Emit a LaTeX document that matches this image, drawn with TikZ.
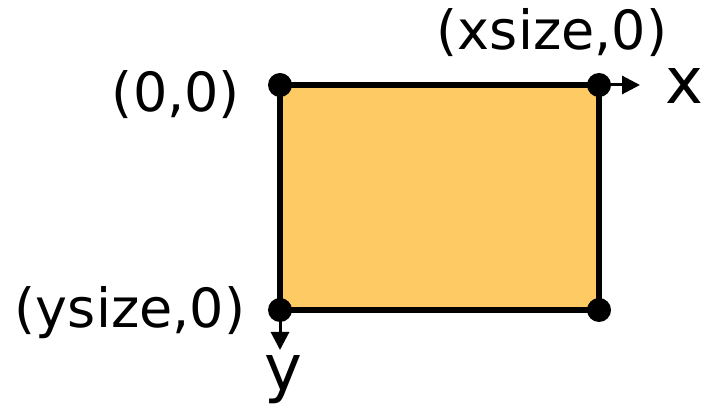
\documentclass[tikz,border=0pt]{standalone}
\usepackage{fontspec}
\setmainfont{DejaVu Sans}
\usetikzlibrary{arrows.meta}
\definecolor{boxfill}{HTML}{FDCA64}
\tikzset{
  lbl/.style={font=\fontsize{54}{64}\selectfont, inner sep=0pt},
  axlbl/.style={font=\fontsize{64}{76}\selectfont, inner sep=0pt},
  corner/.style={circle, fill=black, minimum size=24pt, inner sep=0pt},
  axis/.style={line width=3pt, -{Triangle[length=18pt,width=18pt]}}
}
\begin{document}
\begin{tikzpicture}[x=1pt,y=-1pt]
\useasboundingbox (0,0) rectangle (709,411);
\coordinate (tl) at (280,85);
\coordinate (tr) at (599,85);
\coordinate (bl) at (280,310);
\coordinate (br) at (599,310);
\draw[fill=boxfill, line width=5.5pt] (tl) rectangle (br);
\coordinate (xend) at (640,85);
\coordinate (yend) at (280,350);
\draw[axis] (tr) -- (xend);
\draw[axis] (bl) -- (yend);
\node[corner] (ctl) at (tl) {};
\node[corner] (ctr) at (tr) {};
\node[corner] (cbl) at (bl) {};
\node[corner] (cbr) at (br) {};
\node[lbl] (lxs) at (552,33) {(xsize,0)};
\node[axlbl] (lx) at (684,86) {x};
\node[lbl] (l00) at (176,95) {(0,0)};
\node[lbl] (lys) at (130,313) {(ysize,0)};
\node[axlbl] (ly) at (283,380) {y};
\end{tikzpicture}
\end{document}
